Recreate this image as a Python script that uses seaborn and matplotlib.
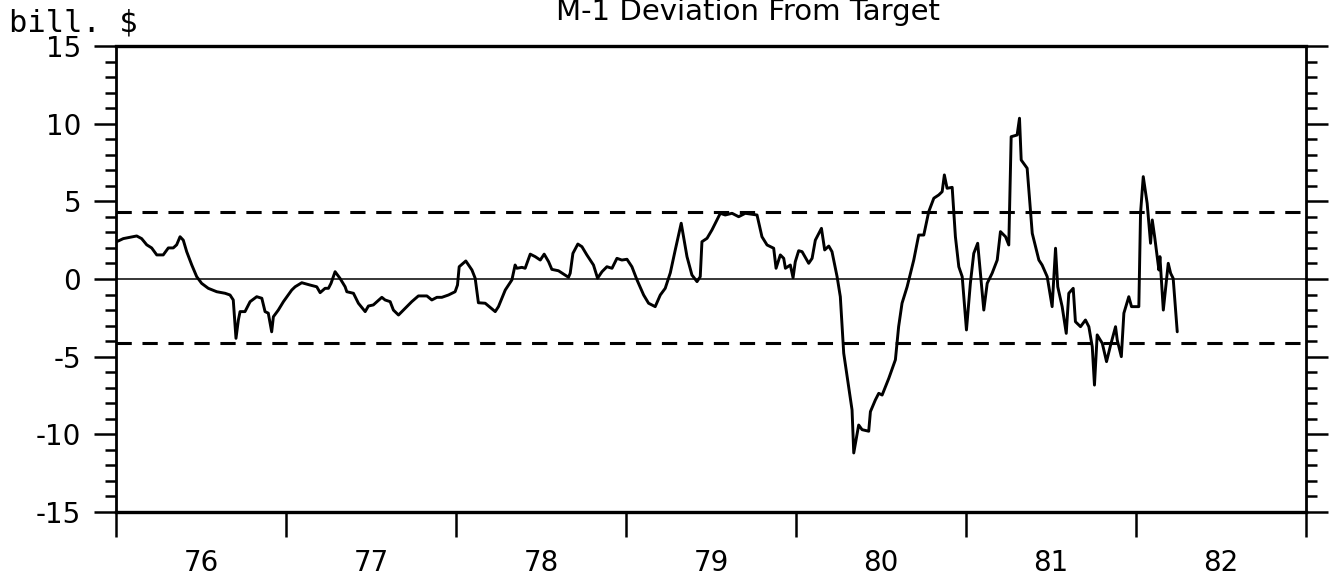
import numpy as np
import pandas as pd
import matplotlib
matplotlib.use("Agg")
import matplotlib.pyplot as plt
import seaborn as sns

# time axis in years after Jan 1976, value in bill. $
years_since_1976 = [
    0.000, 0.014, 0.043, 0.122, 0.151, 0.181, 0.210, 0.240, 0.278, 0.308,
    0.337, 0.357, 0.377, 0.396, 0.416, 0.446, 0.475, 0.504, 0.543, 0.593,
    0.642, 0.671, 0.690, 0.706, 0.720, 0.730, 0.759, 0.789, 0.828, 0.858,
    0.877, 0.896, 0.916, 0.926, 0.955, 0.985, 1.034,
    1.054, 1.093, 1.142, 1.181, 1.201, 1.230, 1.250, 1.265, 1.289, 1.318,
    1.348, 1.358, 1.397, 1.426, 1.466, 1.485, 1.514, 1.564, 1.583, 1.613,
    1.632, 1.662, 1.701, 1.740, 1.779, 1.829, 1.858, 1.888, 1.917, 1.956,
    1.995, 2.009, 2.019, 2.058, 2.094, 2.113, 2.132, 2.172,
    2.231, 2.250, 2.290, 2.329, 2.348, 2.358, 2.388, 2.407, 2.437, 2.466,
    2.496, 2.519, 2.545, 2.564, 2.603, 2.662, 2.672, 2.688, 2.717, 2.741,
    2.770, 2.809, 2.833, 2.859, 2.888, 2.918, 2.947, 2.976, 3.006, 3.035,
    3.065, 3.104, 3.133, 3.172, 3.202, 3.231, 3.261,
    3.290, 3.325, 3.359, 3.388, 3.418, 3.437, 3.447, 3.477, 3.506, 3.555,
    3.584, 3.624, 3.663, 3.702, 3.771, 3.800, 3.830, 3.869, 3.883, 3.908,
    3.928, 3.938, 3.967, 3.983, 3.996, 4.016, 4.036, 4.075, 4.095, 4.114,
    4.150, 4.169, 4.193, 4.212, 4.242, 4.261, 4.281, 4.310, 4.330, 4.340,
    4.369, 4.389, 4.428, 4.438, 4.467, 4.487, 4.507, 4.546, 4.585, 4.604,
    4.624, 4.654, 4.693, 4.722, 4.752, 4.781, 4.811, 4.840, 4.860, 4.873,
    4.889, 4.919, 4.938, 4.958, 4.978, 5.003, 5.026, 5.046, 5.069, 5.085,
    5.105, 5.125, 5.154, 5.184, 5.203, 5.233, 5.252, 5.266, 5.301, 5.315,
    5.325, 5.360, 5.390, 5.429, 5.448, 5.478, 5.507, 5.527, 5.540, 5.566,
    5.590, 5.605, 5.631, 5.644, 5.674, 5.703, 5.723, 5.743, 5.756, 5.772,
    5.802, 5.827, 5.851, 5.880, 5.890, 5.914, 5.929, 5.958, 5.974, 6.017,
    6.027, 6.043, 6.066, 6.086, 6.096, 6.110, 6.135, 6.141, 6.161, 6.190,
    6.204, 6.219, 6.243,
]
deviation = [
    2.40, 2.45, 2.60, 2.77, 2.60, 2.20, 2.00, 1.55, 1.55, 2.00,
    2.00, 2.20, 2.72, 2.50, 1.76, 0.90, 0.15, -0.28, -0.60, -0.82,
    -0.92, -1.03, -1.35, -3.82, -2.64, -2.10, -2.10, -1.46, -1.14, -1.24,
    -2.10, -2.20, -3.40, -2.43, -2.00, -1.46, -0.71,
    -0.50, -0.24, -0.39, -0.50, -0.88, -0.60, -0.60, -0.28, 0.47, 0.04,
    -0.50, -0.82, -0.92, -1.56, -2.10, -1.74, -1.67, -1.18, -1.35, -1.46,
    -2.00, -2.32, -1.89, -1.46, -1.09, -1.09, -1.35, -1.18, -1.18, -1.03,
    -0.82, -0.39, 0.79, 1.16, 0.58, 0.05, -1.53, -1.56,
    -2.10, -1.78, -0.71, -0.06, 0.90, 0.69, 0.75, 0.69, 1.60, 1.44,
    1.22, 1.60, 1.11, 0.62, 0.53, 0.11, 0.37, 1.65, 2.25, 2.08,
    1.55, 0.90, 0.05, 0.47, 0.79, 0.69, 1.33, 1.22, 1.27, 0.79,
    -0.06, -1.03, -1.56, -1.78, -1.03, -0.60, 0.40,
    1.87, 3.59, 1.44, 0.26, -0.17, 0.15, 2.40, 2.62, 3.16, 4.23,
    4.12, 4.23, 4.01, 4.23, 4.12, 2.72, 2.19, 1.98, 0.69, 1.55,
    1.33, 0.69, 0.90, 0.08, 1.11, 1.82, 1.76, 1.01, 1.33, 2.50,
    3.26, 1.87, 2.12, 1.76, 0.15, -1.14, -4.78, -6.93, -8.43, -11.20,
    -9.40, -9.70, -9.80, -8.54, -7.79, -7.36, -7.47, -6.40, -5.20, -3.07,
    -1.56, -0.50, 1.22, 2.83, 2.83, 4.33, 5.20, 5.41, 5.62, 6.70,
    5.84, 5.90, 2.72, 0.79, 0.15, -3.28, -0.28, 1.65, 2.30, 0.37,
    -2.00, -0.28, 0.37, 1.22, 3.05, 2.72, 2.19, 9.16, 9.27, 10.35,
    7.66, 7.13, 2.94, 1.22, 0.90, 0.15, -1.78, 1.98, -0.50, -1.78,
    -3.50, -0.92, -0.60, -2.75, -3.07, -2.64, -3.07, -4.36, -6.83, -3.60,
    -4.14, -5.32, -4.25, -3.07, -3.93, -5.00, -2.20, -1.14, -1.78, -1.78,
    4.23, 6.59, 4.87, 2.30, 3.80, 2.72, 0.58, 1.44, -2.00, 1.01,
    0.37, 0.04, -3.40,
]
upper_band = 4.3
lower_band = -4.1
year_ticks = [1976, 1977, 1978, 1979, 1980, 1981, 1982, 1983]
year_labels = ["76", "77", "78", "79", "80", "81", "82"]

df = pd.DataFrame({"year": 1976 + np.array(years_since_1976), "dev": deviation})

sns.set_theme(style="ticks")
plt.rcParams["font.family"] = ["DejaVu Sans"]
plt.rcParams["axes.unicode_minus"] = False
plt.rcParams["text.color"] = "black"

fig = plt.figure(figsize=(13.36, 5.83), dpi=100)
ax = fig.add_axes([0.0868, 0.1218, 0.8907, 0.7993])

sns.lineplot(data=df, x="year", y="dev", color="black", lw=2.1,
             estimator=None, ax=ax)
ax.axhline(0, color="black", lw=1.1)
ax.axhline(upper_band, color="black", lw=2.2, ls=(0, (5, 3.5)))
ax.axhline(lower_band, color="black", lw=2.2, ls=(0, (5, 3.5)))

ax.set_xlim(1976, 1983)
ax.set_ylim(-15, 15)
ax.set_xlabel("")
ax.set_ylabel("")

# year boundaries get ticks, labels sit mid-year
ax.set_xticks(year_ticks)
ax.set_xticklabels([])
ax.set_xticks([y + 0.5 for y in year_ticks[:-1]], minor=True)
ax.set_xticklabels(year_labels, minor=True)
ax.tick_params(axis="x", which="major", direction="out", length=18, width=1.8,
               color="black")
ax.tick_params(axis="x", which="minor", length=0, pad=27, labelsize=20,
               labelcolor="black")

ax.set_yticks(range(-15, 16, 5))
ax.set_yticks(range(-15, 16), minor=True)
ax.tick_params(axis="y", which="both", left=True, right=True, direction="out",
               width=1.8, color="black")
ax.tick_params(axis="y", which="major", length=16, pad=9, labelsize=20,
               labelcolor="black")
ax.tick_params(axis="y", which="minor", length=8)

for side in ["top", "bottom"]:
    ax.spines[side].set_linewidth(2.4)
for side in ["left", "right"]:
    ax.spines[side].set_linewidth(2.0)
for sp in ax.spines.values():
    sp.set_color("black")

fig.text(0.007, 1 - 31 / 583, "bill. $", fontsize=22, va="baseline",
         family=["DejaVu Sans Mono"], color="black")
fig.text(0.56, 1 - 20 / 583, "M-1 Deviation From Target", ha="center",
         va="baseline", fontsize=21, color="black")

fig.savefig("out.png", dpi=100, facecolor="white")
